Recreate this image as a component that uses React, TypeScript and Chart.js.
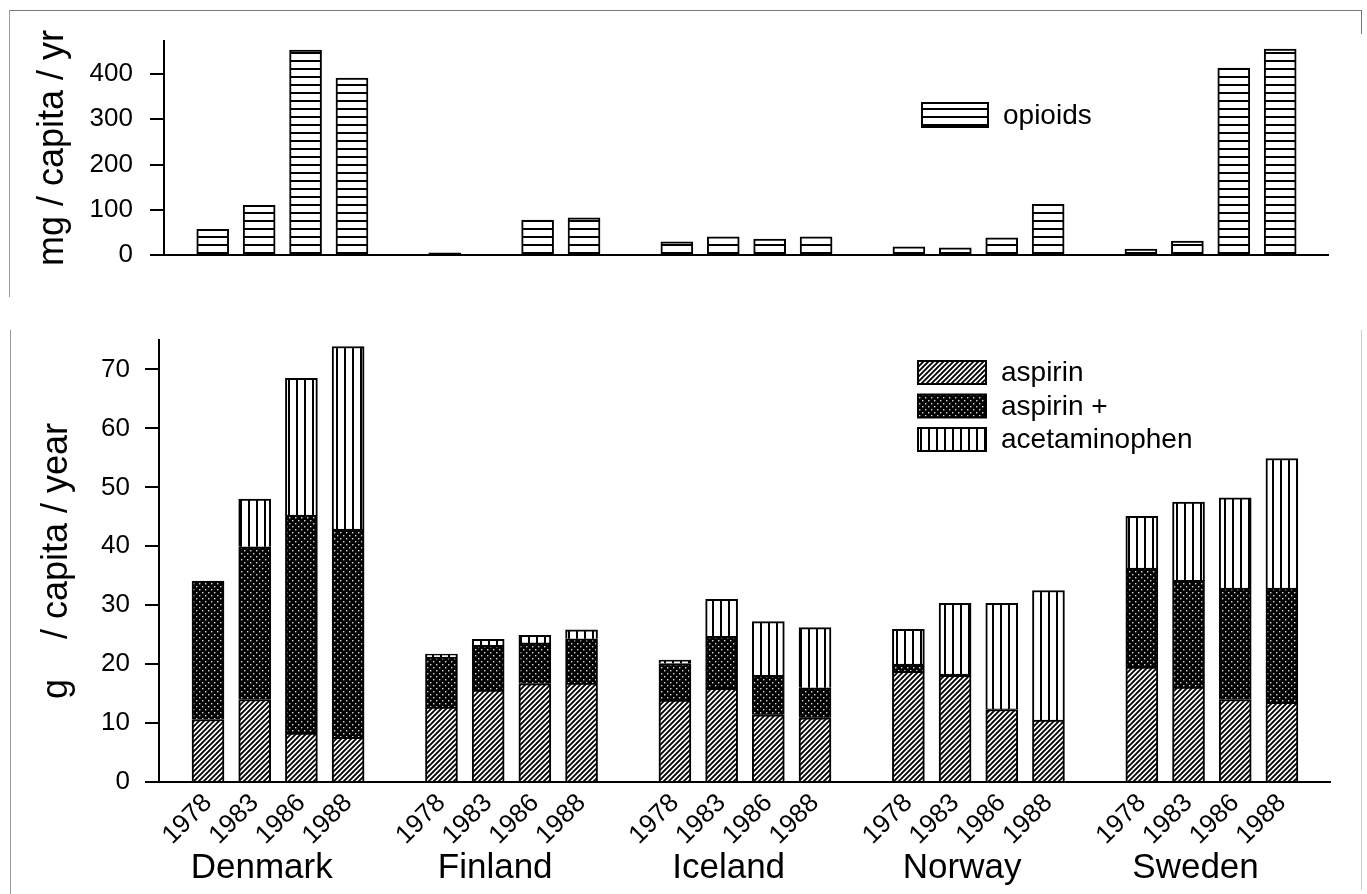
import React, { useEffect, useRef } from 'react';
import { Chart, registerables } from 'chart.js';

Chart.register(...registerables);

// ---------------- data ----------------
const countries = ['Denmark', 'Finland', 'Iceland', 'Norway', 'Sweden'];
const years = ['1978', '1983', '1986', '1988'];

// mg / capita / yr, ordered country by country, year by year
const opioids = [57, 110, 453, 391, 5, 0, 77, 82, 29, 40, 35, 40, 18, 16, 38, 112, 13, 31, 413, 455];

// g / capita / year (stacked segments)
const aspirin = [10.6, 14.0, 8.3, 7.6, 12.7, 15.6, 16.7, 16.8, 13.9, 15.9, 11.4, 10.9, 18.8, 18.1, 12.3, 10.5, 19.5, 16.1, 14.0, 13.5];
const aspirinPlus = [23.5, 25.9, 37.0, 35.3, 8.5, 7.6, 6.9, 7.5, 6.2, 8.8, 6.7, 5.1, 1.2, 0.2, 0.1, 0, 16.8, 18.1, 18.9, 19.4];
const acetaminophen = [0, 8.1, 23.2, 31.0, 0.5, 1.0, 1.3, 1.5, 0.6, 6.3, 9.1, 10.2, 5.9, 12.0, 17.9, 22.0, 8.8, 13.3, 15.3, 22.0];

const opioidTicks = [0, 100, 200, 300, 400];
const analgesicTicks = [0, 10, 20, 30, 40, 50, 60, 70];

const topTitle = 'mg / capita / yr';
const bottomTitle = 'g    / capita / year';

// ---------------- helpers ----------------
const FAMILY = '"Liberation Sans", Arial, Helvetica, sans-serif';
const X_MIN = -1.05;
const X_MAX = 24.03;

const slotOf = (i: number) => Math.floor(i / years.length) * (years.length + 1) + (i % years.length);
const barSlots = opioids.map((_, i) => slotOf(i));
const barYears = opioids.map((_, i) => years[i % years.length]);
const countrySlots = countries.map((_, g) => g * (years.length + 1) + 1.15);

const points = (vals: number[]) => vals.map((v, i) => ({ x: barSlots[i], y: v }));

function makePattern(kind: string): CanvasPattern | string {
  const c = document.createElement('canvas');
  const g = c.getContext('2d');
  if (!g) return '#888';
  if (kind === 'hlines') {
    c.width = 4; c.height = 8;
    g.fillStyle = '#fff'; g.fillRect(0, 0, 4, 8);
    g.fillStyle = '#000'; g.fillRect(0, 4, 4, 2);
  } else if (kind === 'vlines') {
    c.width = 8; c.height = 4;
    g.fillStyle = '#fff'; g.fillRect(0, 0, 8, 4);
    g.fillStyle = '#000'; g.fillRect(0, 0, 2, 4);
  } else if (kind === 'diag') {
    const n = 5;
    c.width = n; c.height = n;
    g.fillStyle = '#fff'; g.fillRect(0, 0, n, n);
    g.strokeStyle = '#000'; g.lineWidth = 1.9;
    g.beginPath();
    g.moveTo(0, n); g.lineTo(n, 0);
    g.moveTo(-1, 1); g.lineTo(1, -1);
    g.moveTo(n - 1, n + 1); g.lineTo(n + 1, n - 1);
    g.stroke();
  } else {
    c.width = 6; c.height = 6;
    g.fillStyle = '#000'; g.fillRect(0, 0, 6, 6);
    g.fillStyle = '#d8d8d8';
    g.fillRect(1, 1, 1.4, 1.4);
    g.fillRect(4, 4, 1.4, 1.4);
  }
  return g.createPattern(c, 'repeat') || '#888';
}

const patternLegend = {
  id: 'patternLegend',
  afterDraw(chart: any, _args: any, opts: any) {
    const ctx = chart.ctx as CanvasRenderingContext2D;
    ctx.save();
    chart.data.datasets.forEach((ds: any, i: number) => {
      const y = opts.y + i * opts.rowH;
      ctx.fillStyle = ds.backgroundColor;
      ctx.fillRect(opts.x, y, opts.boxW, opts.boxH);
      ctx.lineWidth = 2;
      ctx.strokeStyle = '#000';
      ctx.strokeRect(opts.x, y, opts.boxW, opts.boxH);
      ctx.fillStyle = '#000';
      ctx.font = `${opts.size}px ${FAMILY}`;
      ctx.textAlign = 'left';
      ctx.textBaseline = 'middle';
      ctx.fillText(ds.label, opts.textX, y + opts.boxH / 2 + 1);
    });
    ctx.restore();
  },
};

function yAxis(ticksArr: number[], max: number, width: number, tickLen: number, pad: number, title: string, titlePad: number) {
  return {
    type: 'linear',
    min: 0,
    max,
    stacked: true,
    afterBuildTicks: (s: any) => { s.ticks = ticksArr.map((v) => ({ value: v })); },
    afterFit: (s: any) => { s.width = width; },
    grid: { display: true, drawOnChartArea: false, drawTicks: true, tickLength: tickLen, color: '#000', lineWidth: 2 },
    border: { display: true, color: '#000', width: 2 },
    ticks: { color: '#000', font: { size: 26, family: FAMILY }, padding: pad },
    title: { display: true, text: title, color: '#000', font: { size: 36, family: FAMILY }, padding: { top: titlePad, bottom: 0 } },
  };
}

export default function App() {
  const topRef = useRef<HTMLCanvasElement>(null);
  const botRef = useRef<HTMLCanvasElement>(null);

  useEffect(() => {
    if (!topRef.current || !botRef.current) return;
    const hl = makePattern('hlines');
    const vl = makePattern('vlines');
    const dg = makePattern('diag');
    const dt = makePattern('dots');

    const top = new Chart(topRef.current, {
      type: 'bar',
      data: {
        datasets: [
          { label: 'opioids', data: points(opioids), backgroundColor: hl, borderColor: '#000', borderWidth: 2, borderSkipped: 'start', barThickness: 32 } as any,
        ],
      },
      options: {
        responsive: false,
        animation: false,
        events: [],
        layout: { padding: { top: 41, right: 39, left: 0, bottom: 0 } },
        plugins: {
          legend: { display: false },
          tooltip: { enabled: false },
          patternLegend: { x: 922, y: 103, boxW: 66, boxH: 24, rowH: 34, textX: 1003, size: 28 },
        } as any,
        scales: {
          x: {
            type: 'linear', min: X_MIN, max: X_MAX, offset: false,
            afterFit: (s: any) => { s.height = 45; },
            grid: { display: false, drawTicks: false, offset: false },
            border: { display: true, color: '#000', width: 2 },
            ticks: { display: false },
          },
          y: yAxis(opioidTicks, 473, 164, 14, 17, topTitle, 31),
        } as any,
      },
      plugins: [patternLegend],
    });

    const bot = new Chart(botRef.current, {
      type: 'bar',
      data: {
        datasets: [
          { label: 'aspirin', data: points(aspirin), backgroundColor: dg },
          { label: 'aspirin +', data: points(aspirinPlus), backgroundColor: dt },
          { label: 'acetaminophen', data: points(acetaminophen), backgroundColor: vl },
        ].map((d) => ({ ...d, borderColor: '#000', borderWidth: 2, borderSkipped: 'start', barThickness: 32 })) as any,
      },
      options: {
        responsive: false,
        animation: false,
        events: [],
        layout: { padding: { top: 40, right: 37, left: 0, bottom: 0 } },
        plugins: {
          legend: { display: false },
          tooltip: { enabled: false },
          patternLegend: { x: 918, y: 61, boxW: 68, boxH: 23, rowH: 33.5, textX: 1001, size: 28 },
        } as any,
        scales: {
          x: {
            type: 'linear', min: X_MIN, max: X_MAX, stacked: true, weight: 0, offset: false,
            afterBuildTicks: (s: any) => { s.ticks = barSlots.map((v) => ({ value: v })); },
            afterFit: (s: any) => { s.height = 62; },
            grid: { display: false, drawTicks: false, offset: false },
            border: { display: true, color: '#000', width: 2 },
            ticks: {
              autoSkip: false, minRotation: 45, maxRotation: 45, padding: 6,
              color: '#000', font: { size: 26, family: FAMILY },
              callback: (_v: any, i: number) => barYears[i],
            },
          },
          x2: {
            type: 'linear', position: 'bottom', min: X_MIN, max: X_MAX, weight: 1, offset: false,
            afterBuildTicks: (s: any) => { s.ticks = countrySlots.map((v) => ({ value: v })); },
            afterFit: (s: any) => { s.height = 50; },
            grid: { display: false, drawTicks: false, offset: false },
            border: { display: false },
            ticks: {
              autoSkip: false, minRotation: 0, maxRotation: 0, padding: 3,
              color: '#000', font: { size: 35, family: FAMILY },
              callback: (_v: any, i: number) => countries[i],
            },
          },
          y: yAxis(analgesicTicks, 75, 159, 14, 15, bottomTitle, 35),
        } as any,
      },
      plugins: [patternLegend],
    });

    return () => { top.destroy(); bot.destroy(); };
  }, []);

  const line = (s: React.CSSProperties) => <div style={{ position: 'absolute', background: '#777', ...s }} />;

  return (
    <div style={{ position: 'absolute', left: 0, top: 0, width: 1367, height: 894, background: '#fff', overflow: 'hidden' }}>
      <canvas ref={topRef} width={1367} height={300} style={{ position: 'absolute', left: 0, top: 0, width: 1367, height: 300 }} />
      <canvas ref={botRef} width={1367} height={594} style={{ position: 'absolute', left: 0, top: 300, width: 1367, height: 594 }} />
      {line({ left: 9, top: 10, width: 1352, height: 1 })}
      {line({ left: 9, top: 10, width: 1, height: 287, background: '#999' })}
      {line({ left: 1361, top: 10, width: 1, height: 24 })}
      {line({ left: 10, top: 330, width: 1, height: 564, background: '#999' })}
      {line({ left: 1361, top: 330, width: 1, height: 560, background: '#ccc' })}
    </div>
  );
}
